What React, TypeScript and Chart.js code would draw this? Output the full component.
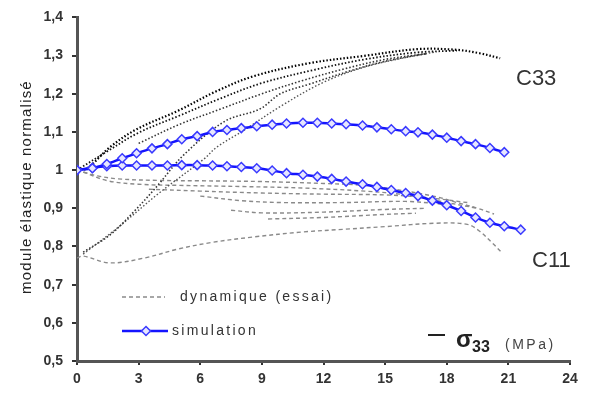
import React, { useEffect, useRef } from "react";
import { Chart, registerables } from "chart.js";

Chart.register(...registerables);

// ---- axis ticks ----
const xTicks = [0, 3, 6, 9, 12, 15, 18, 21, 24];
const yMin = 0.5;
const yMax = 1.4;

// ---- simulation (blue, diamonds) ----
const simC33X = [0, 0.75, 1.45, 2.2, 2.9, 3.65, 4.4, 5.1, 5.85, 6.6, 7.3, 8.0, 8.75, 9.5, 10.2, 11.0, 11.7, 12.4, 13.1, 13.9, 14.6, 15.3, 16.0, 16.6, 17.3, 18.0, 18.7, 19.4, 20.1, 20.8];
const simC33Y = [1.0, 1.005, 1.016, 1.031, 1.044, 1.057, 1.068, 1.081, 1.089, 1.1, 1.105, 1.11, 1.115, 1.119, 1.122, 1.124, 1.124, 1.122, 1.12, 1.117, 1.112, 1.107, 1.102, 1.099, 1.093, 1.085, 1.076, 1.068, 1.058, 1.047];
const simC11X = [0, 0.75, 1.45, 2.2, 2.9, 3.65, 4.4, 5.1, 5.85, 6.6, 7.3, 8.0, 8.75, 9.5, 10.2, 11.0, 11.7, 12.4, 13.1, 13.9, 14.6, 15.3, 16.0, 16.6, 17.3, 18.0, 18.7, 19.4, 20.1, 20.8, 21.6];
const simC11Y = [1.0, 1.006, 1.01, 1.012, 1.012, 1.012, 1.012, 1.013, 1.013, 1.012, 1.01, 1.008, 1.005, 0.999, 0.992, 0.988, 0.983, 0.977, 0.97, 0.963, 0.956, 0.948, 0.94, 0.932, 0.92, 0.908, 0.893, 0.876, 0.862, 0.853, 0.844];

// ---- experimental C33 (black dotted) ----
const c33aX = [0, 0.5, 1.6, 2.9, 4.9, 6.8, 8.6, 11.3, 14.1, 16.6, 18.5, 19.6, 20.6];
const c33aY = [1.0, 1.005, 1.06, 1.107, 1.155, 1.207, 1.246, 1.28, 1.3, 1.317, 1.315, 1.306, 1.293];
const c33bX = [0, 1.5, 3, 5, 7, 9, 11.5, 14, 16.5, 18.5];
const c33bY = [1.0, 1.05, 1.098, 1.143, 1.188, 1.228, 1.262, 1.29, 1.308, 1.313];
const c33cX = [0.3, 1.6, 2.8, 3.9, 5.2, 7.2, 8.9, 9.9, 11.3, 13.3, 15, 17];
const c33cY = [0.785, 0.83, 0.893, 0.958, 1.04, 1.128, 1.16, 1.2, 1.225, 1.26, 1.285, 1.305];
const c33dX = [0.3, 2, 4, 6.2, 6.8, 8, 10, 12, 14, 16, 17.5];
const c33dY = [0.78, 0.85, 0.94, 1.03, 1.06, 1.1, 1.17, 1.23, 1.27, 1.295, 1.31];
const c33eX = [3, 5, 7, 9, 11, 13, 15, 17];
const c33eY = [1.07, 1.12, 1.16, 1.2, 1.235, 1.265, 1.29, 1.305];

// ---- experimental C11 (grey dashed) ----
const c11aX = [0, 1, 2, 4, 6, 9, 12, 14, 16, 17.5, 18.5, 19.5, 20.3];
const c11aY = [1.0, 0.985, 0.977, 0.973, 0.972, 0.97, 0.965, 0.96, 0.945, 0.93, 0.915, 0.9, 0.885];
const c11bX = [0.3, 1.5, 3, 5, 8, 11, 14, 16, 18, 19.5];
const c11bY = [0.995, 0.972, 0.963, 0.96, 0.957, 0.953, 0.945, 0.935, 0.915, 0.9];
const c11cX = [3.5, 6, 9, 12, 15, 17, 19];
const c11cY = [0.95, 0.945, 0.94, 0.937, 0.935, 0.928, 0.915];
const c11dX = [6, 8, 10, 13, 16, 17.8];
const c11dY = [0.932, 0.92, 0.915, 0.915, 0.918, 0.911];
const c11eX = [7.5, 9, 12, 15, 17];
const c11eY = [0.895, 0.888, 0.89, 0.897, 0.9];
const c11fX = [9.3, 12, 15, 16.5];
const c11fY = [0.872, 0.876, 0.884, 0.887];
const c11gX = [0, 0.3, 1.6, 3.3, 4.9, 6.5, 8.6, 11, 13, 15, 17.5, 19, 19.6, 20.2, 20.7];
const c11gY = [0.77, 0.775, 0.757, 0.77, 0.793, 0.81, 0.825, 0.838, 0.845, 0.852, 0.861, 0.858, 0.84, 0.81, 0.783];

const FONT = "'Liberation Sans', Arial, sans-serif";

const pts = (xs: number[], ys: number[]) => xs.map((x, i) => ({ x, y: ys[i] }));

const blackDotted = (xs: number[], ys: number[], w = 1.6, c = "#111") => ({
  data: pts(xs, ys),
  borderColor: c,
  borderWidth: w,
  borderDash: [1.5, 2],
  pointRadius: 0,
  fill: false,
  tension: 0.35,
  order: 1,
});
const greyDashed = (xs: number[], ys: number[]) => ({
  data: pts(xs, ys),
  borderColor: "#8a8a8a",
  borderWidth: 1.4,
  borderDash: [4, 3],
  pointRadius: 0,
  fill: false,
  tension: 0.35,
  order: 2,
});
const blueSim = (xs: number[], ys: number[]) => ({
  data: pts(xs, ys),
  borderColor: "#1414ff",
  borderWidth: 2.5,
  pointStyle: "rectRot",
  pointRadius: 4.5,
  pointBorderWidth: 1.5,
  pointBorderColor: "#3a3aff",
  pointBackgroundColor: "#e6e6ff",
  fill: false,
  tension: 0.3,
  order: 0,
});

const overlay = {
  id: "overlay",
  afterDraw(chart: any) {
    const ctx = chart.ctx as CanvasRenderingContext2D;
    ctx.save();
    // y axis title
    ctx.save();
    ctx.translate(27, 187);
    ctx.rotate(-Math.PI / 2);
    ctx.fillStyle = "#222";
    ctx.font = `15px ${FONT}`;
    (ctx as any).letterSpacing = "1.2px";
    ctx.textAlign = "center";
    ctx.textBaseline = "middle";
    ctx.fillText("module élastique normalisé", 0, 0);
    ctx.restore();

    // legend: dynamique (essai)
    ctx.save();
    ctx.strokeStyle = "#8a8a8a";
    ctx.lineWidth = 1.5;
    ctx.setLineDash([4, 3]);
    ctx.beginPath();
    ctx.moveTo(122, 297);
    ctx.lineTo(165, 297);
    ctx.stroke();
    ctx.restore();
    ctx.save();
    ctx.fillStyle = "#333";
    ctx.font = `14px ${FONT}`;
    (ctx as any).letterSpacing = "2.3px";
    ctx.textBaseline = "middle";
    ctx.fillText("dynamique (essai)", 180, 297);
    ctx.restore();

    // legend: simulation
    ctx.save();
    ctx.strokeStyle = "#1414ff";
    ctx.lineWidth = 2.5;
    ctx.beginPath();
    ctx.moveTo(122, 331);
    ctx.lineTo(168, 331);
    ctx.stroke();
    ctx.fillStyle = "#e6e6ff";
    ctx.strokeStyle = "#3a3aff";
    ctx.lineWidth = 1.5;
    ctx.beginPath();
    ctx.moveTo(146, 326.5);
    ctx.lineTo(150.5, 331);
    ctx.lineTo(146, 335.5);
    ctx.lineTo(141.5, 331);
    ctx.closePath();
    ctx.fill();
    ctx.stroke();
    ctx.fillStyle = "#333";
    ctx.font = `14px ${FONT}`;
    (ctx as any).letterSpacing = "2.3px";
    ctx.textBaseline = "middle";
    ctx.fillText("simulation", 172, 331);
    ctx.restore();

    // C33 / C11 labels
    ctx.save();
    ctx.fillStyle = "#333";
    ctx.font = `22px ${FONT}`;
    ctx.textBaseline = "alphabetic";
    ctx.fillText("C33", 516, 85);
    ctx.fillText("C11", 532, 267);
    ctx.restore();

    // sigma 33 (MPa)
    ctx.save();
    ctx.strokeStyle = "#222";
    ctx.lineWidth = 2;
    ctx.beginPath();
    ctx.moveTo(428, 335);
    ctx.lineTo(445, 335);
    ctx.stroke();
    ctx.fillStyle = "#222";
    ctx.textBaseline = "alphabetic";
    ctx.font = `bold 24px ${FONT}`;
    ctx.fillText("σ", 456, 347);
    ctx.font = `bold 16px ${FONT}`;
    ctx.fillText("33", 472, 352);
    ctx.fillStyle = "#444";
    ctx.font = `14px ${FONT}`;
    (ctx as any).letterSpacing = "2.5px";
    ctx.fillText("(MPa)", 505, 349);
    ctx.restore();

    ctx.restore();
  },
};

export default function App() {
  const ref = useRef<HTMLCanvasElement | null>(null);
  useEffect(() => {
    if (!ref.current) return;
    const chart = new Chart(ref.current, {
      type: "line",
      data: {
        datasets: [
          blueSim(simC33X, simC33Y),
          blueSim(simC11X, simC11Y),
          blackDotted(c33aX, c33aY, 2.2, "#000"),
          blackDotted(c33bX, c33bY, 1.8, "#111"),
          blackDotted(c33cX, c33cY, 1.6, "#333"),
          blackDotted(c33dX, c33dY, 1.4, "#555"),
          blackDotted(c33eX, c33eY, 1.6, "#333"),
          greyDashed(c11aX, c11aY),
          greyDashed(c11bX, c11bY),
          greyDashed(c11cX, c11cY),
          greyDashed(c11dX, c11dY),
          greyDashed(c11eX, c11eY),
          greyDashed(c11fX, c11fY),
          greyDashed(c11gX, c11gY),
        ] as any,
      },
      options: {
        animation: false,
        responsive: false,
        devicePixelRatio: 1,
        layout: { padding: { left: 0, right: 22, top: 17, bottom: 0 } },
        plugins: { legend: { display: false }, tooltip: { enabled: false } },
        scales: {
          x: {
            type: "linear",
            min: xTicks[0],
            max: xTicks[xTicks.length - 1],
            afterBuildTicks: (s: any) => {
              s.ticks = xTicks.map((v) => ({ value: v }));
            },
            afterFit: (s: any) => {
              s.height = 35;
            },
            ticks: {
              color: "#333",
              font: { family: FONT, size: 14, weight: "bold" },
              padding: 6,
              maxRotation: 0,
              autoSkip: false,
            },
            grid: {
              drawOnChartArea: false,
              drawTicks: true,
              tickLength: 4,
              color: "#333",
              lineWidth: 2,
            },
            border: { display: true, color: "#555", width: 3 },
          },
          y: {
            type: "linear",
            min: yMin,
            max: yMax,
            afterFit: (s: any) => {
              s.width = 77;
            },
            ticks: {
              stepSize: 0.1,
              color: "#333",
              font: { family: FONT, size: 14, weight: "bold" },
              padding: 9,
              callback: (v: any) => {
                const n = Number(v);
                if (Math.abs(n - 1) < 1e-9) return "1";
                return n.toFixed(1).replace(".", ",");
              },
            },
            grid: {
              drawOnChartArea: false,
              drawTicks: true,
              tickLength: 5,
              color: "#333",
              lineWidth: 2,
            },
            border: { display: true, color: "#555", width: 3 },
          },
        },
      } as any,
      plugins: [overlay],
    });
    return () => chart.destroy();
  }, []);
  return (
    <div style={{ position: "absolute", left: 0, top: 0, width: 592, height: 396, background: "#fff" }}>
      <canvas ref={ref} width={592} height={396} style={{ width: 592, height: 396, display: "block" }} />
    </div>
  );
}
